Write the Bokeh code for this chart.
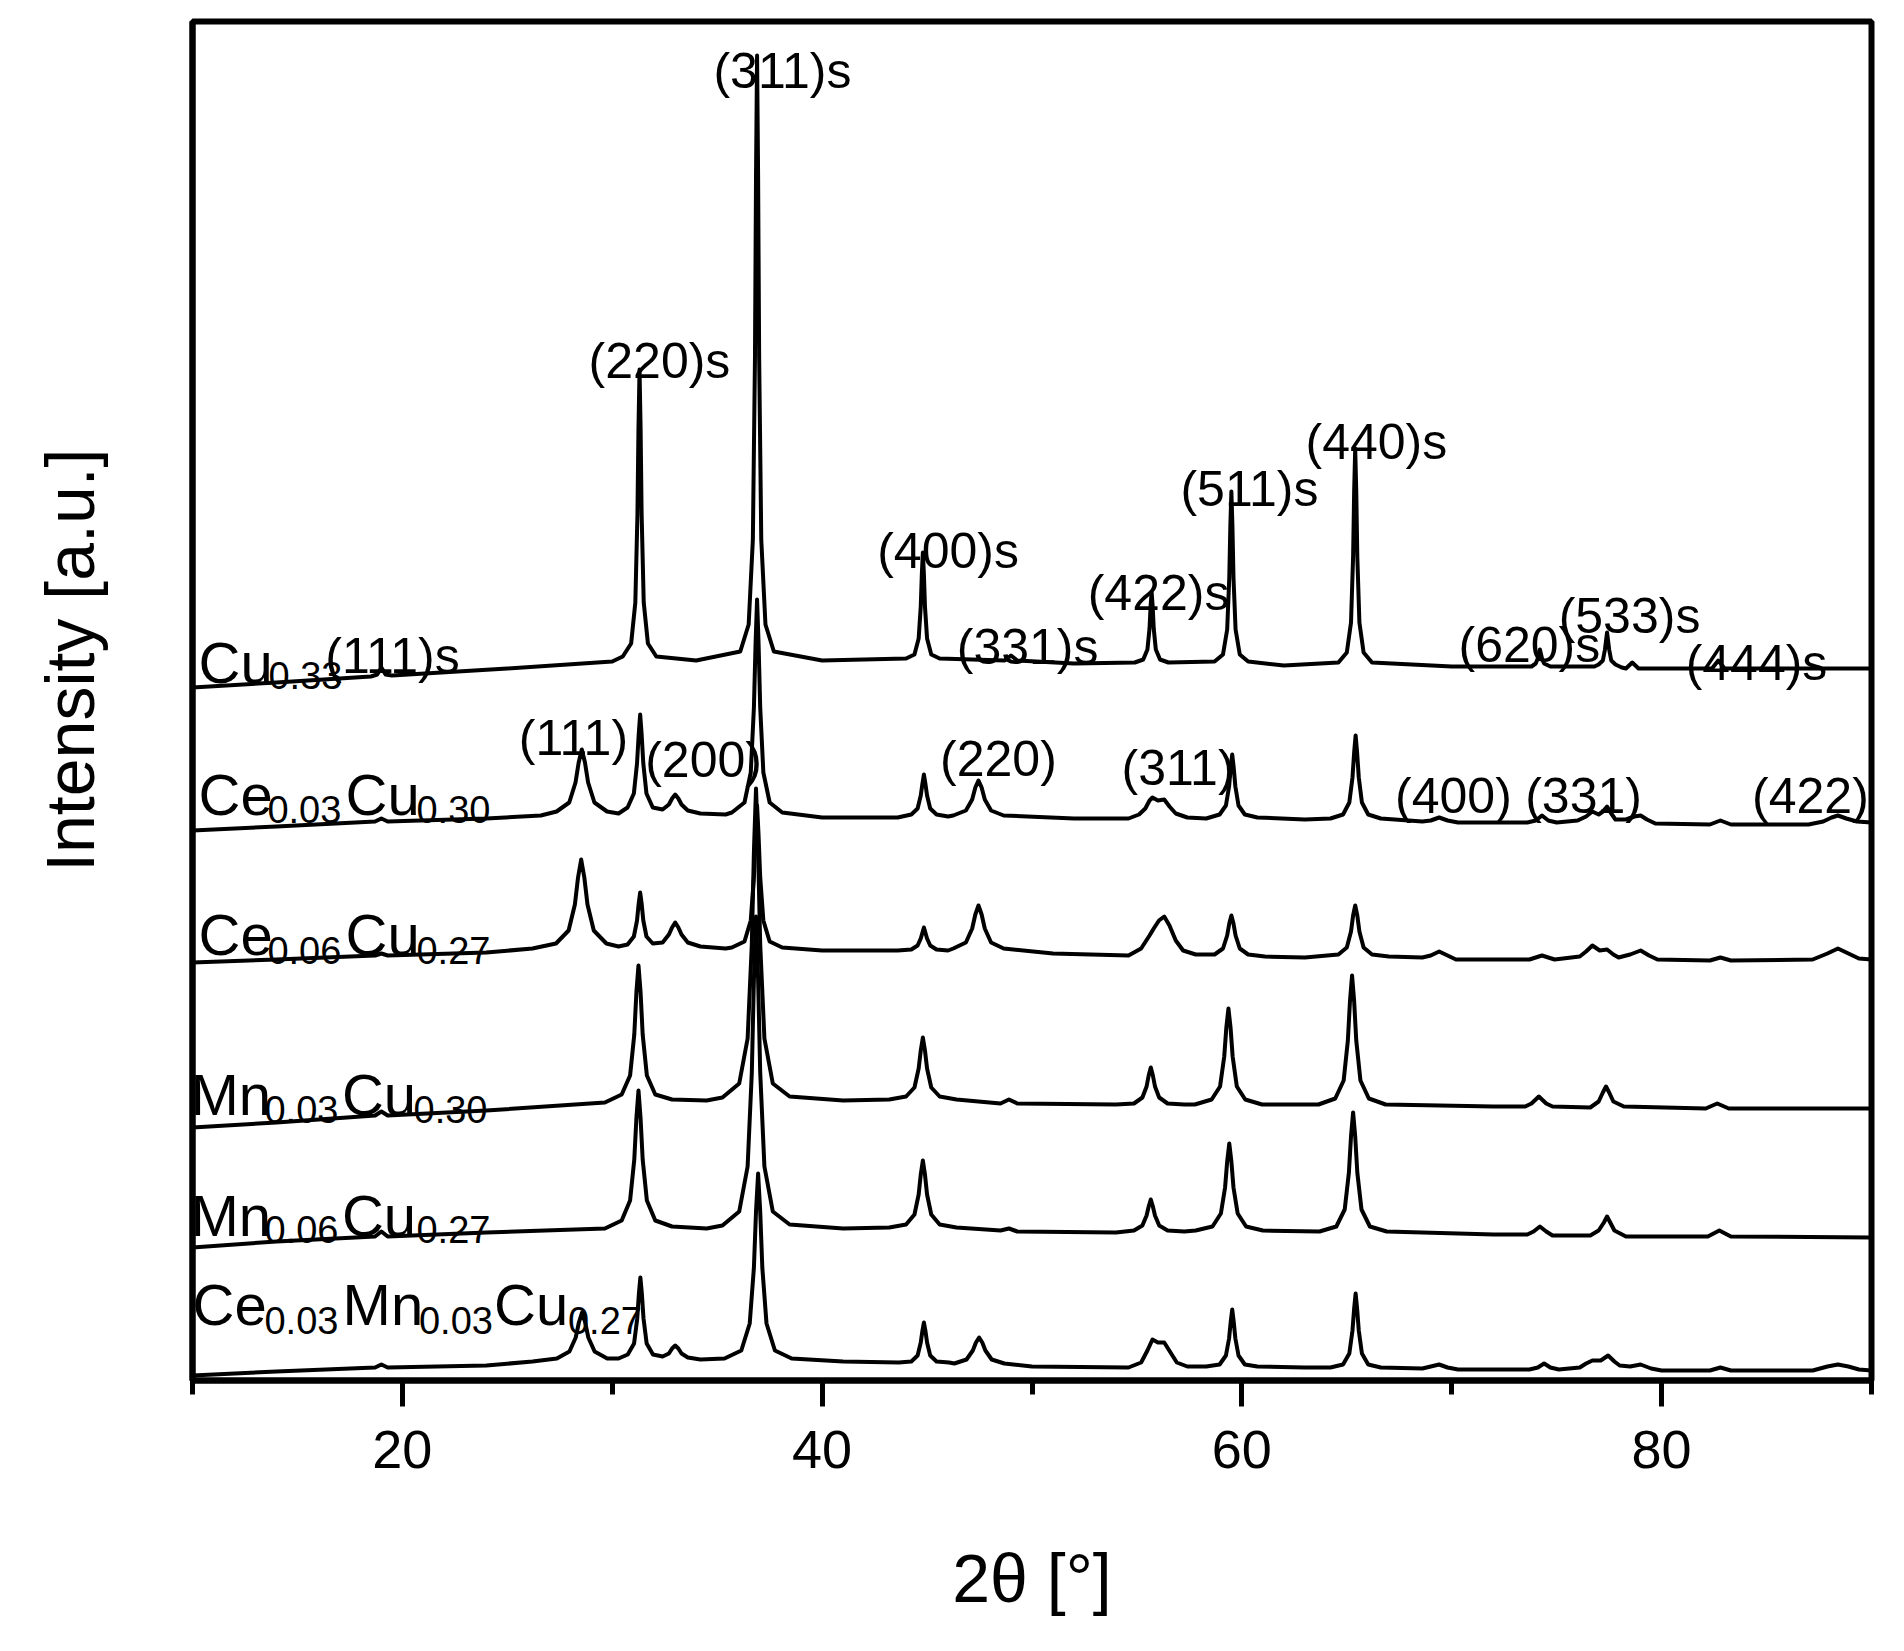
from bokeh.plotting import figure
from bokeh.models import Range1d, FixedTicker, Title
from bokeh.core.properties import value
from bokeh.embed import file_html
from bokeh.resources import INLINE

FONT = "Liberation Sans"

# ---- XRD patterns: (2theta, intensity a.u., already vertically offset) ----
cu033_pts = [(10.0,693),(14.0,698),(18.5,704),(18.8,706),(19.0,713),(19.2,706),(19.5,705),(25.0,712),(30.0,719),
    (30.5,724),(30.9,737),(31.1,778),(31.2,866),(31.25,953),(31.3,1011),(31.35,953),(31.4,866),(31.5,778),(31.7,737),(32.1,724),
    (34.0,720),(36.1,729),(36.5,756),(36.7,841),(36.8,1022),(36.85,1204),(36.9,1325),(36.95,1204),(37.0,1022),(37.1,841),(37.3,756),(37.7,729),
    (40.0,720),(44.0,722),(44.4,726),(44.6,742),(44.7,774),(44.75,806),(44.8,828),(44.85,806),(44.9,774),(45.0,742),(45.2,726),(45.6,722),
    (48.7,720),(49.0,725),(49.3,720),(52.0,717),
    (54.9,718),(55.3,721),(55.5,731),(55.6,752),(55.65,774),(55.7,788),(55.75,774),(55.8,752),(55.9,731),(56.1,721),(56.5,718),
    (58.7,719),(59.1,726),(59.3,751),(59.4,803),(59.45,854),(59.5,889),(59.55,854),(59.6,803),(59.7,751),(59.9,726),(60.3,719),
    (62.0,715),(64.6,718),(65.0,728),(65.2,758),(65.3,824),(65.35,889),(65.4,932),(65.45,889),(65.5,824),(65.6,758),(65.8,728),(66.2,718),
    (70.0,714),(73.8,714),(74.0,717),(74.1,722),(74.2,731),(74.3,722),(74.4,717),(74.7,714),
    (76.8,714),(77.0,716),(77.2,720),(77.3,731),(77.4,748),(77.5,731),(77.6,720),(77.8,716),(78.1,713),(78.3,712),(78.6,718),(78.9,712),
    (82.4,712),(82.7,720),(83.0,712),(90.0,712)]

ce003_pts = [(10.0,550),(14.0,554),(18.7,559),(19.0,562),(19.3,559),(24.0,562),(26.6,565),
    (27.35,569),(27.95,578),(28.25,598),(28.4,618),(28.55,631),(28.7,618),(28.85,598),(29.15,578),(29.75,569),(30.3,567),
    (30.73,573),(31.03,587),(31.18,617),(31.26,646),(31.33,666),(31.4,646),(31.48,617),(31.63,587),(31.93,573),
    (32.4,571),(32.7,576),(32.85,582),(33.0,586),(33.15,582),(33.3,576),(33.6,570),(34.2,567),(35.4,566),
    (35.7,568),(36.3,578),(36.6,608),(36.75,673),(36.83,738),(36.9,781),(36.97,738),(37.05,673),(37.2,608),(37.5,578),(38.1,568),
    (40.0,563),(43.6,563),(44.25,566),(44.55,572),(44.7,585),(44.78,597),(44.85,606),(44.92,597),(45.0,585),(45.15,572),(45.45,566),(46.0,564),
    (46.25,565),(46.85,570),(47.15,581),(47.3,593),(47.45,600),(47.6,593),(47.75,581),(48.05,570),(48.65,565),
    (52.0,562),(54.6,562),(55.1,566),(55.4,572),(55.6,580),(55.74,583),(56.0,580),(56.3,581),(56.55,574),(56.85,567),(57.4,563),
    (58.3,562),(58.94,566),(59.24,575),(59.39,594),(59.47,613),(59.54,626),(59.61,613),(59.69,594),(59.84,575),(60.14,566),(60.74,563),
    (63.0,561),(64.22,562),(64.82,566),(65.12,578),(65.27,603),(65.35,628),(65.42,645),(65.49,628),(65.57,603),(65.72,578),(66.02,566),(66.62,562),
    (68.6,559),(69.0,560),(69.4,563),(69.8,560),(70.3,558),(73.6,558),(74.0,560),(74.3,565),(74.6,560),(75.0,558),
    (76.0,560),(76.4,564),(76.7,569),(77.0,566),(77.2,569),(77.4,574),(77.6,567),(77.8,561),(78.3,561),(78.7,564),(79.0,565),(79.3,561),(79.7,557),
    (82.3,556),(82.8,560),(83.3,556),(87.0,556),(87.7,559),(88.1,563),(88.4,565),(88.8,562),(89.3,559),(90.0,558)]

ce006_pts = [(10.0,418),(14.0,421),(18.7,425),(19.0,427),(19.3,425),(24.0,428),(26.2,432),
    (27.32,437),(27.92,450),(28.22,476),(28.37,503),(28.52,521),(28.67,503),(28.82,476),(29.12,450),(29.72,437),(30.3,434),
    (30.73,436),(31.03,444),(31.18,460),(31.26,477),(31.33,488),(31.4,477),(31.48,460),(31.63,444),(31.93,437),
    (32.4,438),(32.7,446),(32.85,453),(33.0,458),(33.15,453),(33.3,446),(33.6,438),(34.2,434),(35.4,432),
    (35.7,433),(36.3,439),(36.6,460),(36.75,503),(36.83,546),(36.9,575),(36.97,546),(37.05,503),(37.2,460),(37.5,439),(38.1,433),
    (40.0,430),(43.6,430),(44.25,431),(44.55,435),(44.7,442),(44.85,453),(45.0,442),(45.15,435),(45.45,431),(46.0,430),
    (46.25,432),(46.85,438),(47.15,452),(47.3,466),(47.45,475),(47.6,466),(47.75,452),(48.05,438),(48.65,432),
    (51.0,427),(54.6,425),(55.2,432),(55.6,445),(55.8,452),(56.05,460),(56.3,464),(56.55,455),(56.85,440),(57.2,430),(57.8,426),
    (58.7,426),(59.1,432),(59.3,445),(59.4,457),(59.5,465),(59.6,457),(59.7,445),(59.9,432),(60.3,426),(61.1,424),
    (63.0,423),(64.6,426),(65.0,433),(65.2,449),(65.3,465),(65.4,475),(65.5,465),(65.6,449),(65.8,433),(66.2,426),(67.0,424),
    (68.6,423),(69.0,425),(69.4,429),(69.8,425),(70.2,421),(73.7,421),(74.3,425),(74.9,421),
    (76.1,424),(76.4,429),(76.7,435),(77.05,430),(77.4,431),(77.7,426),(77.95,423),(78.5,426),(79.0,430),(79.4,425),(79.8,421),
    (82.3,420),(82.8,423),(83.3,420),(87.2,421),(87.9,427),(88.4,432),(88.9,427),(89.4,422),(90.0,421)]

mn003_pts = [(10.0,253),(14.0,258),(18.7,265),(19.0,269),(19.3,265),(24.0,270),(29.65,278),
    (30.45,286),(30.85,305),(31.05,346),(31.15,388),(31.25,415),(31.35,388),(31.45,346),(31.65,305),(32.05,286),(32.85,281),
    (34.5,280),(35.25,283),(36.05,297),(36.45,342),(36.65,436),(36.75,529),(36.85,592),(36.95,529),(37.05,436),(37.25,342),(37.65,297),(38.45,284),
    (41.0,280),(43.2,281),(44.0,284),(44.4,293),(44.6,312),(44.7,330),(44.8,343),(44.9,330),(45.0,312),(45.2,293),(45.6,284),(46.4,281),
    (48.5,277),(48.9,281),(49.3,277),(54.0,276),
    (54.86,277),(55.26,283),(55.46,294),(55.56,305),(55.66,313),(55.76,305),(55.86,294),(56.06,283),(56.46,277),(57.26,276),
    (57.76,276),(58.56,281),(58.96,294),(59.16,324),(59.26,353),(59.36,372),(59.46,353),(59.56,324),(59.76,294),(60.16,281),(60.96,276),
    (63.65,276),(64.45,282),(64.85,300),(65.05,340),(65.15,379),(65.25,405),(65.35,379),(65.45,340),(65.65,300),(66.05,282),(66.85,276),
    (72.0,274),(73.5,274),(73.8,277),(74.15,284),(74.5,277),(74.8,274),
    (76.6,273),(77.0,279),(77.2,288),(77.35,294),(77.5,288),(77.7,279),(78.2,274),
    (82.1,272),(82.65,277),(83.2,272),(90.0,272)]

mn006_pts = [(10.0,133),(14.0,139),(18.7,144),(19.0,149),(19.3,144),(24.0,148),(29.65,152),
    (30.45,160),(30.85,180),(31.05,221),(31.15,262),(31.25,290),(31.35,262),(31.45,221),(31.65,180),(32.05,160),(32.85,154),
    (34.5,152),(35.25,155),(36.05,169),(36.45,214),(36.65,308),(36.75,401),(36.85,464),(36.95,401),(37.05,308),(37.25,214),(37.65,169),(38.45,156),
    (41.0,152),(43.2,153),(44.0,156),(44.4,166),(44.6,186),(44.7,206),(44.8,220),(44.9,206),(45.0,186),(45.2,166),(45.6,156),(46.4,153),
    (48.5,150),(48.9,152),(49.3,149),(54.0,148),
    (54.86,150),(55.26,155),(55.46,165),(55.56,174),(55.66,181),(55.76,174),(55.86,165),(56.06,155),(56.46,150),(57.26,149),
    (57.8,150),(58.6,154),(59.0,167),(59.2,193),(59.3,219),(59.4,237),(59.5,219),(59.6,193),(59.8,167),(60.2,154),(61.0,150),
    (63.7,149),(64.5,154),(64.9,171),(65.1,208),(65.2,244),(65.3,268),(65.4,244),(65.5,208),(65.7,171),(66.1,154),(66.9,149),
    (72.0,146),(73.6,146),(73.9,149),(74.2,154),(74.5,149),(74.8,145),
    (76.6,145),(77.0,150),(77.25,158),(77.4,164),(77.55,158),(77.75,150),(78.3,144),
    (82.2,144),(82.75,150),(83.3,144),(90.0,143)]

cemn_pts = [(10.0,5),(14.0,9),(18.7,13),(19.0,16),(19.3,13),(24.0,15),(26.2,19),
    (27.36,22),(27.96,29),(28.26,43),(28.41,58),(28.56,68),(28.71,58),(28.86,43),(29.16,29),(29.76,22),(30.3,22),
    (30.74,26),(31.04,37),(31.19,62),(31.27,87),(31.34,103),(31.41,87),(31.49,62),(31.64,37),(31.94,26),
    (32.4,24),(32.7,27),(32.85,32),(33.0,35),(33.15,32),(33.3,27),(33.6,23),(34.2,21),
    (35.35,22),(36.15,30),(36.55,57),(36.75,113),(36.85,169),(36.95,207),(37.05,169),(37.15,113),(37.35,57),(37.75,30),(38.55,22),
    (41.0,19),(43.65,18),(44.25,19),(44.55,25),(44.7,38),(44.78,50),(44.85,58),(44.92,50),(45.0,38),(45.15,25),(45.45,19),(46.05,18),
    (46.3,17),(46.88,21),(47.18,30),(47.33,38),(47.48,43),(47.63,38),(47.78,30),(48.08,21),(48.68,17),
    (50.0,14),(54.6,13),(55.2,18),(55.5,30),(55.74,41),(56.0,38),(56.3,38),(56.6,28),(56.9,18),(57.4,14),
    (58.3,14),(58.94,16),(59.24,25),(59.39,42),(59.47,59),(59.54,71),(59.61,59),(59.69,42),(59.84,25),(60.14,16),(60.74,14),
    (63.0,13),(64.22,13),(64.82,16),(65.12,27),(65.27,50),(65.35,72),(65.42,87),(65.49,72),(65.57,50),(65.72,27),(66.02,16),(66.62,13),
    (68.6,12),(69.0,14),(69.4,16),(69.8,13),(70.3,11),(73.7,11),(74.1,13),(74.4,17),(74.7,13),(75.1,11),
    (76.1,13),(76.4,17),(76.7,20),(77.1,20),(77.45,25),(77.75,19),(78.0,15),(78.5,14),(79.0,16),(79.5,12),(80.0,10),
    (82.3,10),(82.8,13),(83.3,10),(87.2,10),(87.9,14),(88.4,16),(88.9,14),(89.4,11),(90.0,10)]

patterns = [cu033_pts, ce003_pts, ce006_pts, mn003_pts, mn006_pts, cemn_pts]

# ---- reflection labels ----
hkl_text = ["(111)s", "(220)s", "(311)s", "(400)s", "(331)s", "(422)s", "(511)s", "(440)s",
            "(620)s", "(533)s", "(444)s",
            "(111)", "(200)", "(220)", "(311)", "(400)", "(331)", "(422)"]
hkl_x = [19.53, 32.25, 38.11, 46.0, 49.79, 56.03, 60.36, 66.41, 73.70, 78.47, 84.52,
         28.15, 34.35, 48.40, 56.96, 70.08, 76.28, 87.09]
hkl_y = [725, 1020, 1310, 830, 734, 788, 892, 939, 736, 765, 718,
         643, 621, 622, 613, 585, 585, 585]

# ---- sample names (element symbols and subscripts) ----
name_text = ["Cu", "Ce", "Cu", "Ce", "Cu", "Mn", "Cu", "Mn", "Cu", "Ce", "Mn", "Cu"]
name_x = [10.29, 10.29, 17.29, 10.29, 17.29, 9.9, 17.12, 9.9, 17.12, 10.0, 17.15, 24.37]
name_y = [718, 586, 586, 446, 446, 286, 286, 165, 165, 76, 76, 76]
sub_text = ["0.33", "0.03", "0.30", "0.06", "0.27", "0.03", "0.30", "0.06", "0.27", "0.03", "0.03", "0.27"]
sub_x = [13.62, 13.57, 20.67, 13.57, 20.67, 13.43, 20.53, 13.43, 20.67, 13.43, 20.79, 27.89]
sub_y = [705, 571, 571, 430, 430, 271, 271, 151, 151, 60, 60, 60]

x_major = [20, 40, 60, 80]
x_minor = [10, 30, 50, 70, 90]

p = figure(width=1880, height=1635, output_backend="svg", toolbar_location=None,
           x_range=Range1d(10, 90), y_range=Range1d(0, 1359),
           min_border_left=192, min_border_right=9, min_border_top=21, min_border_bottom=255)
p.background_fill_color = "white"
p.border_fill_color = "white"
p.grid.visible = False
p.outline_line_color = "black"
p.outline_line_width = 6
p.outline_line_alpha = 1.0

for pts in patterns:
    xs = [a for a, b in pts]
    ys = [b for a, b in pts]
    p.line(xs, ys, line_color="black", line_width=4, line_join="round")

p.text(x=hkl_x, y=hkl_y, text=hkl_text, text_font=value(FONT), text_font_size="50px",
       text_align="center", text_baseline="alphabetic", text_color="black")
p.text(x=name_x, y=name_y, text=name_text, text_font=value(FONT), text_font_size="58px",
       text_align="left", text_baseline="alphabetic", text_color="black")
p.text(x=sub_x, y=sub_y, text=sub_text, text_font=value(FONT), text_font_size="38px",
       text_align="left", text_baseline="alphabetic", text_color="black")

xa = p.xaxis[0]
xa.ticker = FixedTicker(ticks=x_major, minor_ticks=x_minor)
xa.axis_line_width = 6
xa.major_tick_out = 26
xa.major_tick_in = 0
xa.major_tick_line_width = 5
xa.minor_tick_out = 14
xa.minor_tick_in = 0
xa.minor_tick_line_width = 5
xa.major_label_text_font = FONT
xa.major_label_text_font_size = "54px"
xa.major_label_text_color = "black"
xa.major_label_standoff = 24
xa.axis_label = "2θ [°]"
xa.axis_label_text_font = FONT
xa.axis_label_text_font_size = "68px"
xa.axis_label_text_font_style = "normal"
xa.axis_label_text_color = "black"
xa.axis_label_standoff = 69

# y axis: no visible ticks or labels; one fully transparent spacer tick
# reserves room so the rotated title sits where the reference label is
ya = p.yaxis[0]
ya.ticker = FixedTicker(ticks=[2])
ya.major_label_overrides = {2: ""}
ya.axis_line_width = 6
ya.major_tick_line_color = "white"
ya.major_tick_line_alpha = 0.01
ya.minor_tick_line_color = None
ya.major_tick_out = 85
ya.major_tick_in = 0
ya.minor_tick_out = 0
ya.major_label_standoff = 0
ya.major_label_text_font_size = "0px"
ya.major_label_text_alpha = 0.0

p.add_layout(Title(text="Intensity [a.u.]", align="right", offset=427, standoff=0,
                   vertical_align="bottom",
                   text_font=FONT, text_font_size="68px", text_font_style="normal",
                   text_color="black"), "left")

open("out.html", "w").write(file_html(p, INLINE))
